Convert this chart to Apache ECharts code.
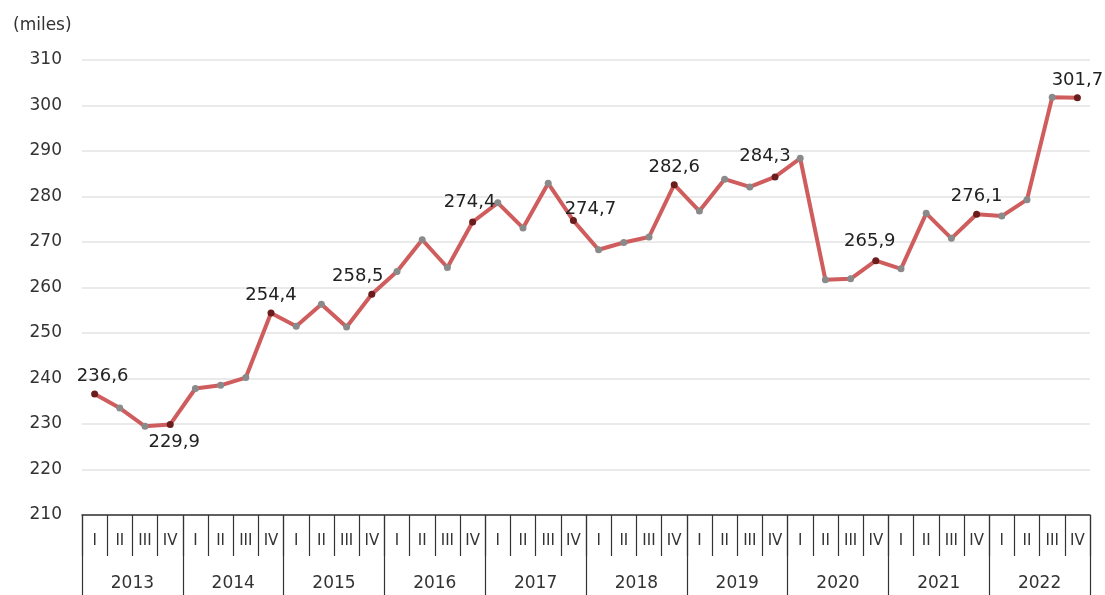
<!DOCTYPE html>
<html>
<head>
<meta charset="utf-8">
<script src="https://cdn.jsdelivr.net/npm/echarts@6/dist/echarts.min.js"></script>
<style>
    html, body { margin: 0; padding: 0; background: #fff; }
    #chart { width: 1105px; height: 595px; }
</style>
</head>
<body>
<div id="chart"></div>
<script>
const years = ['2013', '2014', '2015', '2016', '2017', '2018', '2019', '2020', '2021', '2022']
const quarters = ['I', 'II', 'III', 'IV']

// quarterly values, 2013 Q1 .. 2022 Q4
const values = [
    236.6, 233.5, 229.5, 229.9,
    237.8, 238.5, 240.2, 254.4,
    251.5, 256.3, 251.3, 258.5,
    263.5, 270.5, 264.4, 274.4,
    278.6, 273.1, 282.9, 274.7,
    268.3, 269.9, 271.1, 282.6,
    276.8, 283.8, 282.1, 284.3,
    288.4, 261.7, 261.9, 265.9,
    264.1, 276.3, 270.8, 276.1,
    275.7, 279.3, 301.8, 301.7
]

// points that carry a value label
const labelled = [0, 3, 7, 11, 15, 19, 23, 27, 31, 35, 39]

const yTicks = { min: 210, max: 310, step: 10 }

// label placement tweaks
const labelPos = {
    0: { position: 'top', offset: [8, 0] },
    3: { position: 'bottom', offset: [4, 0] },
    11: { position: 'top', offset: [-14, 0] },
    15: { position: 'top', offset: [-3, -2] },
    19: { position: 'top', offset: [17, 6] },
    27: { position: 'top', offset: [-10, -3] },
    31: { position: 'top', offset: [-6, -2] }
}

const quarterCats = []
years.forEach(y => quarters.forEach(q => quarterCats.push(y + ' ' + q)))

const fmt = v => v.toFixed(1).replace('.', ',')

const seriesData = values.map((v, i) => {
    if (labelled.indexOf(i) < 0) return v
    const p = labelPos[i] || { position: 'top', offset: [0, 0] }
    return {
        value: v,
        itemStyle: { color: '#6b1c1c' },
        label: {
            show: true,
            position: p.position,
            offset: p.offset,
            formatter: () => fmt(v)
        }
    }
})

const font = '"DejaVu Sans", sans-serif'

const option = {
    animation: false,
    title: {
        text: '(miles)',
        left: 8,
        top: 12,
        textStyle: { fontFamily: font, fontSize: 17, fontWeight: 'normal', color: '#333' }
    },
    grid: { left: 82, right: 15, top: 60, bottom: 80 },
    xAxis: [
        {
            type: 'category',
            data: quarterCats,
            position: 'bottom',
            boundaryGap: true,
            axisLine: { show: true, lineStyle: { color: '#333', width: 1.5 } },
            axisTick: { show: true, length: 41, interval: 0, lineStyle: { color: '#333', width: 1.2 } },
            axisLabel: {
                interval: 0,
                margin: 19,
                fontFamily: font,
                fontSize: 15,
                color: '#333',
                formatter: v => v.split(' ')[1]
            }
        },
        {
            type: 'category',
            data: years,
            position: 'bottom',
            boundaryGap: true,
            axisLine: { show: false },
            axisTick: { show: true, length: 80, interval: 0, lineStyle: { color: '#333', width: 1.2 } },
            axisLabel: {
                interval: 0,
                margin: 60,
                fontFamily: font,
                fontSize: 17,
                color: '#333'
            }
        }
    ],
    yAxis: {
        type: 'value',
        min: yTicks.min,
        max: yTicks.max,
        interval: yTicks.step,
        axisLine: { show: false },
        axisTick: { show: false },
        axisLabel: { fontFamily: font, fontSize: 17, color: '#333', margin: 20 },
        splitLine: { lineStyle: { color: '#e3e3e3', width: 1.5 } }
    },
    series: [
        {
            type: 'line',
            xAxisIndex: 0,
            data: seriesData,
            symbol: 'circle',
            symbolSize: 7,
            lineStyle: { color: '#cf5d5d', width: 4 },
            itemStyle: { color: '#8a8a8a' },
            label: {
                fontFamily: font,
                fontSize: 18,
                color: '#222',
                distance: 5
            },
            z: 3
        }
    ]
}

const myChart = echarts.init(document.getElementById('chart'))
myChart.setOption(option)
</script>
</body>
</html>
